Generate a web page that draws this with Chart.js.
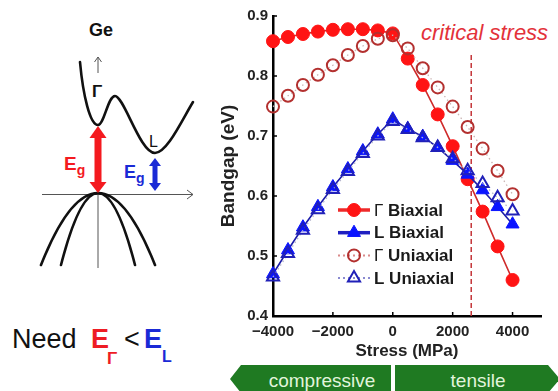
<!DOCTYPE html>
<html>
<head>
<meta charset="utf-8">
<script src="https://cdn.jsdelivr.net/npm/chart.js@4/dist/chart.umd.min.js"></script>
<style>
  html, body { margin: 0; padding: 0; background: #fff; width: 558px; height: 391px; overflow: hidden; }
  #wrap { position: relative; width: 558px; height: 391px; font-family: Arial, "Liberation Sans", sans-serif; }
  #art { position: absolute; left: 0; top: 0; }
  #plot { position: absolute; left: 200px; top: 0; }
</style>
</head>
<body>
<div id="wrap">
  <svg id="art" width="558" height="391" viewBox="0 0 558 391" font-family="Arial, 'Liberation Sans', sans-serif">
    <!-- band diagram of Ge -->
    <text x="101" y="36" text-anchor="middle" font-size="18" font-weight="bold" fill="#111">Ge</text>
    <g stroke="#555" stroke-width="1" fill="none">
      <line x1="98" y1="57" x2="98" y2="73"/>
      <polyline points="94.5,62 98,57 101.5,62"/>
      <line x1="98" y1="195" x2="98" y2="268"/>
      <line x1="42" y1="194.5" x2="193" y2="194.5"/>
      <polyline points="187,190 193,194.5 187,199"/>
    </g>
    <text x="97" y="97" text-anchor="middle" font-size="17" font-weight="bold" fill="#111">Γ</text>
    <g stroke="#111" stroke-width="2.6" fill="none" stroke-linecap="round">
      <path d="M80,62 C83,95 90,125 98,125 C104,125 108,96 115,96 C124,96 140,153 155,153 C167,153 182,120 193,102"/>
      <path d="M61,265 Q98,121 135,265"/>
      <path d="M41,265 Q98,121 155,265"/>
    </g>
    <text x="149" y="147" font-size="16" fill="#111">L</text>
    <!-- gap arrows -->
    <g fill="#f41a1f">
      <rect x="94.5" y="136" width="7" height="48"/>
      <polygon points="98,126 89.5,138 106.5,138"/>
      <polygon points="98,193 89.5,182 106.5,182"/>
    </g>
    <g fill="#1a2ad6">
      <rect x="152.5" y="164" width="5" height="21"/>
      <polygon points="155,158 149,166 161,166"/>
      <polygon points="155,191 149,183 161,183"/>
    </g>
    <text x="64" y="170" font-size="19" font-weight="bold" fill="#f41a1f">E<tspan font-size="14" dy="5">g</tspan></text>
    <text x="124" y="178" font-size="18" font-weight="bold" fill="#1a2ad6">E<tspan font-size="14" dy="5">g</tspan></text>

    <!-- condition -->
    <text x="12" y="348" font-size="27" fill="#111">Need</text>
    <text x="91" y="348" font-size="27" font-weight="bold" fill="#ee1c24">E</text>
    <text x="107" y="364" font-size="17" font-weight="bold" fill="#ee1c24">Γ</text>
    <text x="124" y="348" font-size="27" fill="#111">&lt;</text>
    <text x="144" y="348" font-size="27" font-weight="bold" fill="#1a2ad6">E</text>
    <text x="162" y="362" font-size="16" font-weight="bold" fill="#1a2ad6">L</text>

    <!-- stress direction banner -->
    <polygon points="230,379 241,365 391,365 391,393 241,393" fill="#1f7a22"/>
    <polygon points="395,365 548,365 560,379 548,393 395,393" fill="#1f7a22"/>
    <text x="322" y="387" text-anchor="middle" font-size="19" fill="#e2f5dc">compressive</text>
    <text x="478" y="387" text-anchor="middle" font-size="19" fill="#e2f5dc">tensile</text>

    <text x="421" y="40" font-size="22" font-style="italic" fill="#e3323a">critical stress</text>
  </svg>
  <canvas id="plot" width="358" height="362"></canvas>
</div>
<script>
// Applied stress (MPa), compressive negative / tensile positive
const stress = [-4000, -3500, -3000, -2500, -2000, -1500, -1000, -500, 0,
                500, 1000, 1500, 2000, 2500, 3000, 3500, 4000];

// Direct (Γ) and indirect (L) bandgaps in eV
const gammaBiaxial  = [0.858, 0.865, 0.870, 0.874, 0.877, 0.878, 0.878, 0.876, 0.871,
                       0.829, 0.785, 0.736, 0.683, 0.628, 0.574, 0.516, 0.460];
const lBiaxial      = [0.470, 0.510, 0.548, 0.582, 0.615, 0.645, 0.675, 0.703, 0.728,
                       0.712, 0.699, 0.681, 0.659, 0.636, 0.610, 0.582, 0.553];
const gammaUniaxial = [0.749, 0.767, 0.785, 0.802, 0.818, 0.835, 0.850, 0.862, 0.868,
                       0.846, 0.813, 0.781, 0.749, 0.715, 0.679, 0.642, 0.603];
const lUniaxial     = [0.465, 0.504, 0.543, 0.577, 0.611, 0.641, 0.671, 0.700, 0.724,
                       0.711, 0.697, 0.681, 0.662, 0.642, 0.621, 0.597, 0.575];

const seriesLabels = ['Γ Biaxial', 'L Biaxial', 'Γ Uniaxial', 'L Uniaxial'];

// Stress at which Γ drops below L, and where its marker line starts
const criticalStress = 2620;
const criticalTop = 0.835;

const xTicks = [-4000, -2000, 0, 2000, 4000];
const yTicks = [0.4, 0.5, 0.6, 0.7, 0.8, 0.9];

const toPoints = ys => stress.map((x, i) => ({ x, y: ys[i] }));

const datasets = [
  {
    label: seriesLabels[0], data: toPoints(gammaBiaxial), order: 3,
    borderColor: '#cf2b2b', borderWidth: 1.6, legendLineColor: '#ee2a2a', legendLineWidth: 3.5,
    pointStyle: 'circle', pointRadius: 6.5, pointBackgroundColor: '#ff1414',
    pointBorderColor: '#ff1414', pointBorderWidth: 1
  },
  {
    label: seriesLabels[1], data: toPoints(lBiaxial), order: 2,
    borderColor: '#1c1ca8', borderWidth: 1.6, legendLineColor: '#1f1fc0', legendLineWidth: 3.5,
    pointStyle: 'triangle', pointRadius: 7.5, pointBackgroundColor: '#0a14ff',
    pointBorderColor: '#0a14ff', pointBorderWidth: 1
  },
  {
    label: seriesLabels[2], data: toPoints(gammaUniaxial), order: 0,
    borderColor: '#c9b4b4', borderWidth: 1.3, borderDash: [1.5, 3], legendLineColor: '#d98a8a', legendLineWidth: 2,
    pointStyle: 'circle', pointRadius: 6, pointBackgroundColor: 'rgba(255,255,255,0)',
    pointBorderColor: '#b3302f', pointBorderWidth: 2
  },
  {
    label: seriesLabels[3], data: toPoints(lUniaxial), order: 1,
    borderColor: '#b4b4cc', borderWidth: 1.3, borderDash: [1.5, 3], legendLineColor: '#8a8ad0', legendLineWidth: 2,
    pointStyle: 'triangle', pointRadius: 7, pointBackgroundColor: 'rgba(255,255,255,0)',
    pointBorderColor: '#2020b8', pointBorderWidth: 2
  },
  {
    label: 'critical', data: [{ x: criticalStress, y: criticalTop }, { x: criticalStress, y: 0.4 }], order: 5,
    borderColor: '#c4363a', borderWidth: 1.5, borderDash: [5, 3], pointRadius: 0
  }
];

// Small inward tick marks on both axes
const innerTicks = {
  id: 'innerTicks',
  afterDraw(chart) {
    const { ctx } = chart;
    const xs = chart.scales.x, ys = chart.scales.y;
    ctx.save();
    ctx.strokeStyle = '#000';
    ctx.lineWidth = 1.5;
    ctx.beginPath();
    xs.ticks.forEach(t => {
      const px = xs.getPixelForValue(t.value);
      ctx.moveTo(px, ys.bottom);
      ctx.lineTo(px, ys.bottom - 4);
    });
    ys.ticks.forEach(t => {
      const py = ys.getPixelForValue(t.value);
      ctx.moveTo(xs.left, py);
      ctx.lineTo(xs.left + 4, py);
    });
    ctx.stroke();
    ctx.restore();
  }
};

// Legend drawn inside the plot: line sample + marker + label
const plotLegend = {
  id: 'plotLegend',
  afterDatasetsDraw(chart) {
    const { ctx, chartArea } = chart;
    const x0 = chartArea.left + 65, x1 = x0 + 32, xm = (x0 + x1) / 2;
    const top = chartArea.top + 194, step = 22.7;
    const regular = '17px Arial, "Liberation Sans", sans-serif';
    const bold = 'bold 17px Arial, "Liberation Sans", sans-serif';
    seriesLabels.forEach((label, row) => {
      const ds = chart.data.datasets[row];
      const y = top + row * step;
      ctx.save();
      ctx.strokeStyle = ds.legendLineColor;
      ctx.lineWidth = ds.legendLineWidth;
      ctx.setLineDash(ds.borderDash ? [2, 3] : []);
      ctx.beginPath();
      ctx.moveTo(x0, y);
      ctx.lineTo(x1, y);
      ctx.stroke();
      ctx.setLineDash([]);
      ctx.fillStyle = ds.pointBackgroundColor;
      ctx.strokeStyle = ds.pointBorderColor;
      ctx.lineWidth = ds.pointBorderWidth;
      Chart.helpers.drawPoint(ctx, {
        pointStyle: ds.pointStyle, radius: ds.pointRadius,
        borderWidth: ds.pointBorderWidth, rotation: 0
      }, xm, y);
      ctx.fillStyle = '#1a1a1a';
      ctx.textBaseline = 'middle';
      let tx = x1 + 4;
      // The Greek Γ is set in a regular weight, the rest in bold
      if (label.startsWith('Γ')) {
        ctx.font = regular;
        ctx.fillText('Γ', tx, y + 1);
        tx += ctx.measureText('Γ').width;
        label = label.slice(1);
      }
      ctx.font = bold;
      ctx.fillText(label, tx, y + 1);
      ctx.restore();
    });
  }
};

const tickFont = { family: 'Arial, "Liberation Sans", sans-serif', size: 15, weight: 'bold' };

new Chart(document.getElementById('plot'), {
  type: 'scatter',
  data: { datasets: datasets.map(d => Object.assign({ showLine: true, clip: false, fill: false, tension: 0 }, d)) },
  options: {
    responsive: false,
    animation: false,
    devicePixelRatio: 1,
    layout: { padding: { left: 0, top: 16, right: 17, bottom: 0 } },
    plugins: { legend: { display: false }, tooltip: { enabled: false } },
    scales: {
      x: {
        type: 'linear', min: -4000, max: 4950,
        afterBuildTicks: s => { s.ticks = xTicks.map(v => ({ value: v })); },
        afterFit: s => { s.height = 46; },
        grid: { display: false, drawTicks: false },
        border: { display: true, color: '#000', width: 2.5 },
        ticks: {
          padding: 7, color: '#222', font: tickFont, maxRotation: 0,
          callback: v => (v < 0 ? '\u2212' + Math.abs(v) : String(v))
        },
        title: {
          display: true, text: 'Stress (MPa)', color: '#222',
          font: { family: 'Arial, "Liberation Sans", sans-serif', size: 17, weight: 'bold' },
          padding: { top: 0, bottom: 0 }
        }
      },
      y: {
        type: 'linear', min: 0.4, max: 0.9,
        afterBuildTicks: s => { s.ticks = yTicks.map(v => ({ value: v })); },
        afterFit: s => { s.width = 73; },
        grid: { display: false, drawTicks: false },
        border: { display: true, color: '#000', width: 2.5 },
        ticks: { padding: 5, color: '#222', font: tickFont, callback: v => Number(v).toFixed(1) },
        title: {
          display: true, text: 'Bandgap (eV)', color: '#222',
          font: { family: 'Arial, "Liberation Sans", sans-serif', size: 19, weight: 'bold' },
          padding: { top: 17, bottom: 0 }
        }
      }
    }
  },
  plugins: [innerTicks, plotLegend]
});
</script>
</body>
</html>
